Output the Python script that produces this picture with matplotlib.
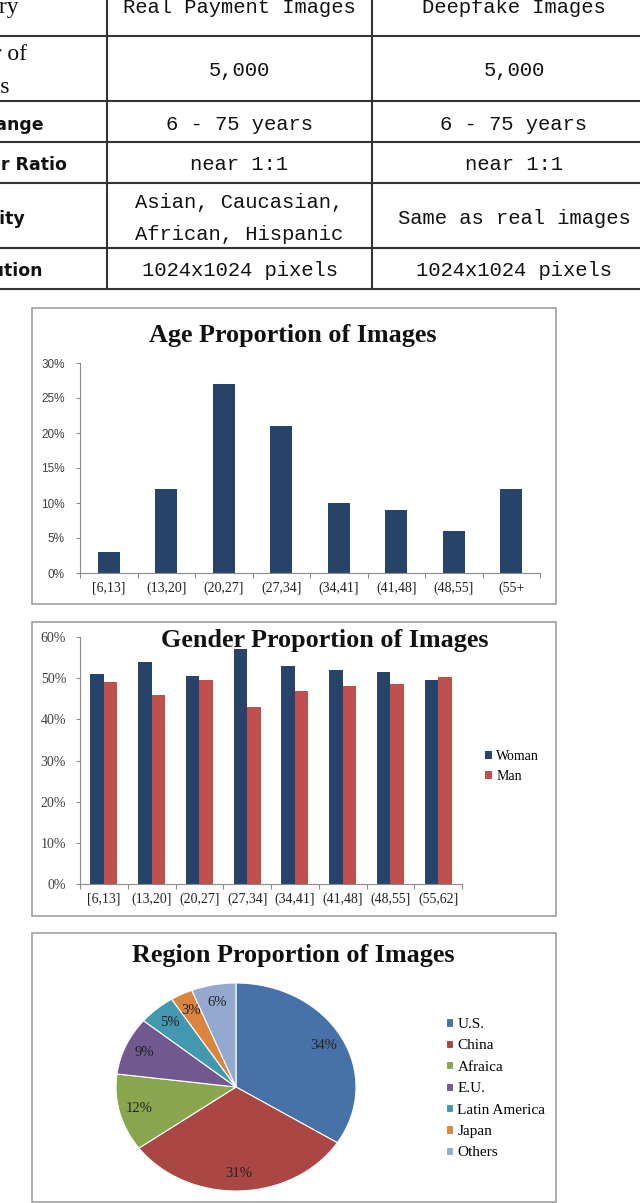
import matplotlib
matplotlib.use('Agg')
import matplotlib.pyplot as plt
import numpy as np
from matplotlib.patches import Rectangle

plt.rcParams['font.family'] = ['Liberation Serif', 'DejaVu Sans']

# table
row_names = ['Category', 'Number of\nImages', 'Age Range', 'Gender Ratio', 'Ethnicity', 'Resolution']
real_col = ['Real Payment Images', '5,000', '6 - 75 years', 'near 1:1',
            'Asian, Caucasian,\nAfrican, Hispanic', '1024x1024 pixels']
fake_col = ['Deepfake Images', '5,000', '6 - 75 years', 'near 1:1',
            'Same as real images', '1024x1024 pixels']

# age chart
age_groups = ['[6,13]', '(13,20]', '(20,27]', '(27,34]', '(34,41]', '(41,48]', '(48,55]', '(55+']
age_share = [3, 12, 27, 21, 10, 9, 6, 12]

# gender chart
gender_groups = ['[6,13]', '(13,20]', '(20,27]', '(27,34]', '(34,41]', '(41,48]', '(48,55]', '(55,62]']
woman_share = [51, 54, 50.5, 57, 53, 52, 51.5, 49.6]
man_share = [49, 46, 49.5, 43, 47, 48, 48.5, 50.4]

# region chart
regions = ['U.S.', 'China', 'Afraica', 'E.U.', 'Latin America', 'Japan', 'Others']
region_share = [34, 31, 12, 9, 5, 3, 6]
region_colors = ['#4672A8', '#AA4643', '#89A54E', '#71588F', '#4198AF', '#DB843D', '#93A9CF']

NAVY = '#27436A'
RED = '#C0504D'
AXIS_GRAY = '#8C8C8C'

W, H = 640, 1203
fig = plt.figure(figsize=(W / 100, H / 100), dpi=100)


def px_axes(x0, y0, x1, y1):
    return fig.add_axes([x0 / W, 1 - y1 / H, (x1 - x0) / W, (y1 - y0) / H])


bg = fig.add_axes([0, 0, 1, 1])
bg.set_xlim(0, W)
bg.set_ylim(H, 0)
bg.axis('off')

# ---- table ----
row_edges = [-26, 36, 101, 142, 183, 248, 289]
for y in row_edges[1:]:
    bg.plot([0, W], [y, y], color='#333333', lw=1.5, solid_capstyle='butt')
for x in [107, 372]:
    bg.plot([x, x], [0, row_edges[-1]], color='#333333', lw=1.5, solid_capstyle='butt')


def cell_text(x, yc, txt, ha='center', **kw):
    lines = txt.split('\n')
    n = len(lines)
    for i, line in enumerate(lines):
        y = yc + (i - (n - 1) / 2) * 32 + 8
        bg.text(x, y, line, ha=ha, va='baseline', color='#111111', **kw)


for i in range(len(row_names)):
    yc = (row_edges[i] + row_edges[i + 1]) / 2
    if i < 2:
        cell_text(-25, yc, row_names[i], ha='center', family='Liberation Serif', fontsize=17)
    else:
        cell_text(-62, yc, row_names[i], ha='left', family='DejaVu Sans',
                  fontweight='bold', fontsize=12.5)
    cell_text(239.5, yc, real_col[i], family='Liberation Mono', fontsize=14.8)
    cell_text(514, yc, fake_col[i], family='Liberation Mono', fontsize=14.8)

# chart frames
for (y0, y1) in [(308, 604), (622, 916), (933, 1202)]:
    bg.add_patch(Rectangle((32, y0), 556 - 32, y1 - y0, fill=False,
                           edgecolor='#A0A0A0', lw=1.2))

bg.text(293, 342, 'Age Proportion of Images', ha='center', va='baseline',
        fontsize=18.8, fontweight='bold', color='#111111')
bg.text(325, 647, 'Gender Proportion of Images', ha='center', va='baseline',
        fontsize=18.8, fontweight='bold', color='#111111', zorder=5)
bg.text(293, 962, 'Region Proportion of Images', ha='center', va='baseline',
        fontsize=18.8, fontweight='bold', color='#111111')


def style_bar_axes(ax, n):
    for s in ['top', 'right']:
        ax.spines[s].set_visible(False)
    for s in ['left', 'bottom']:
        ax.spines[s].set_color(AXIS_GRAY)
        ax.spines[s].set_linewidth(0.8)
    ax.set_xlim(-0.5, n - 0.5)
    ax.set_xticks(np.arange(-0.5, n, 1.0), minor=True)
    ax.tick_params(axis='x', which='minor', length=3.5, color=AXIS_GRAY, width=0.8)
    ax.tick_params(axis='x', which='major', length=0, pad=6, labelsize=10, labelcolor='#222222')
    ax.tick_params(axis='y', length=3, color=AXIS_GRAY, width=0.8)
    ax.patch.set_alpha(0)


# ---- age chart ----
ax1 = px_axes(80, 363, 540, 573)
x = np.arange(len(age_groups))
ax1.bar(x, age_share, width=0.38, color=NAVY)
style_bar_axes(ax1, len(age_groups))
ax1.set_xticks(x)
ax1.set_xticklabels(age_groups)
ax1.set_ylim(0, 30)
ax1.set_yticks(range(0, 31, 5))
ax1.set_yticklabels([f'{v}%' for v in range(0, 31, 5)], family='Liberation Sans',
                    fontsize=8.5, color='#404040')
ax1.tick_params(axis='y', pad=8)

# ---- gender chart ----
ax2 = px_axes(80, 637, 462, 884)
x = np.arange(len(gender_groups))
bw = 0.285
b_w = ax2.bar(x - bw / 2, woman_share, width=bw, color=NAVY, label='Woman')
b_m = ax2.bar(x + bw / 2, man_share, width=bw, color=RED, label='Man')
style_bar_axes(ax2, len(gender_groups))
ax2.set_xticks(x)
ax2.set_xticklabels(gender_groups)
ax2.set_ylim(0, 60)
ax2.set_yticks(range(0, 61, 10))
ax2.set_yticklabels([f'{v}%' for v in range(0, 61, 10)], fontsize=10, color='#404040')
ax2.tick_params(axis='y', pad=7)
ax2.legend(handles=[b_w, b_m], loc='upper left', bbox_to_anchor=(485 / W, 1 - 750 / H),
           bbox_transform=fig.transFigure, frameon=False, fontsize=10,
           handlelength=0.5, handleheight=0.5, handletextpad=0.3,
           borderpad=0, borderaxespad=0, labelspacing=0.5)

# ---- region chart ----
ax3 = px_axes(116, 983, 356, 1191)
wedges, _, autotexts = ax3.pie(region_share, colors=region_colors, startangle=90,
                               counterclock=False, autopct=lambda p: f'{p:.0f}%',
                               pctdistance=0.83,
                               wedgeprops=dict(edgecolor='white', linewidth=0.8),
                               textprops=dict(fontsize=10.5, color='#222222'))
ax3.set_aspect('auto')
ax3.set_xlim(-1, 1)
ax3.set_ylim(-1, 1)
ax3.legend(wedges, regions, loc='upper left', bbox_to_anchor=(446 / W, 1 - 1018 / H),
           bbox_transform=fig.transFigure, frameon=False, fontsize=11,
           handlelength=0.45, handleheight=0.45, handletextpad=0.3,
           borderpad=0, borderaxespad=0, labelspacing=0.55)

fig.savefig('out.png', dpi=100)
